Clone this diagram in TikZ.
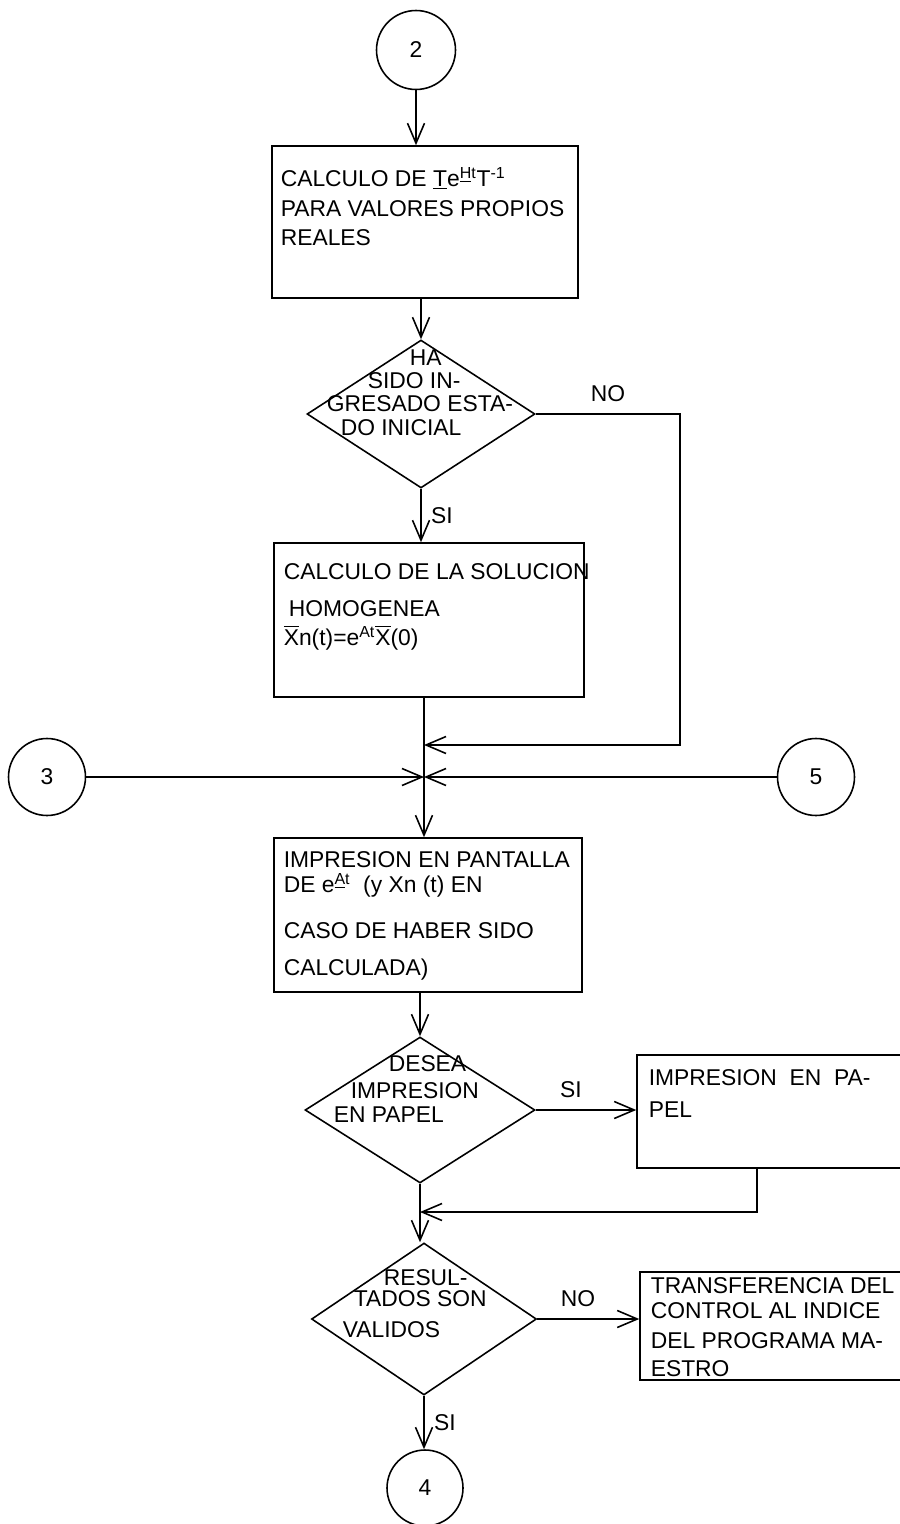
\documentclass[tikz,border=0pt]{standalone}
\usepackage{fontspec}
\setmainfont{Liberation Sans}
\usetikzlibrary{shapes.geometric,arrows.meta}
\newcommand{\xbar}{\ensuremath{\overline{\mbox{X}}}}
\begin{document}
\begin{tikzpicture}[
		x=0.02cm, y=-0.02cm,
		line width=0.9pt,
		every node/.style={font=\fontsize{13}{17}\selectfont},
		conn/.style={draw, circle, minimum size=1.58cm, inner sep=0pt},
		procbox/.style={draw, rectangle, inner sep=0pt},
		boxtext/.style={anchor=base west, align=left, inner sep=0pt},
		decision/.style={draw, diamond, inner sep=0pt},
		dectext/.style={anchor=base west, align=left, inner sep=0pt, font=\fontsize{13}{13.2}\selectfont},
		flow/.style={-{Straight Barb[length=4mm, width=3.4mm]}},
		]
		\useasboundingbox (0,0) rectangle (899,1524);
		\node [conn] (c2) at (416,50) {2};
		\node [procbox, minimum width=6.12cm, minimum height=3.04cm] (b1) at (425,222) {};
		\node [boxtext] (b1t) at (280,246) {CALCULO DE \underline{T}e\textsuperscript{\underline{H}t}T\textsuperscript{-1}\\PARA VALORES PROPIOS\\REALES};
		\node [decision, minimum width=4.56cm, minimum height=2.96cm] (d1) at (421,414) {};
		\node [dectext] (d1t) at (326,435) {\hspace*{1.66cm}HA\\\hspace*{0.82cm}SIDO IN-\\GRESADO ESTA-\\\hspace*{0.28cm}DO INICIAL};
		\node [procbox, minimum width=6.2cm, minimum height=3.08cm] (b2) at (429,620) {};
		\node [boxtext] (b2t) at (283,645) {CALCULO DE LA SOLUCION\\[3.5pt]\hspace*{0.1cm}HOMOGENEA\\[-0.5pt]\xbar n(t)=e\textsuperscript{At}\xbar(0)};
		\coordinate (k1) at (680,745);
		\coordinate (j1) at (424,745);
		\coordinate (j2) at (424,777);
		\node [conn, minimum size=1.54cm] (c3) at (47,777) {3};
		\node [conn, minimum size=1.54cm] (c5) at (816,777) {5};
		\node [procbox, minimum width=6.16cm, minimum height=3.08cm] (b3) at (428,915) {};
		\node [boxtext] (b3t) at (283,975) {IMPRESION EN PANTALLA\\[-2.8pt]DE e\textsuperscript{\underline{A}t}\ \ (y Xn (t) EN\\[9.2pt]CASO DE HABER SIDO\\[4pt]CALCULADA)};
		\node [decision, minimum width=4.6cm, minimum height=2.92cm] (d2) at (420,1110) {};
		\node [dectext] (d2t) at (333,1122) {\hspace*{1.1cm}DESEA\\[2.5pt]\hspace*{0.34cm}IMPRESION\\EN PAPEL};
		\node [procbox, minimum width=5.3cm, minimum height=2.26cm] (b4) at (769.5,1111.5) {};
		\node [boxtext] (b4t) at (648,1117) {IMPRESION\ \ EN\ \ PA-\\[1.2pt]PEL};
		\coordinate (k2) at (757,1212);
		\coordinate (j3) at (420,1212);
		\node [decision, minimum width=4.5cm, minimum height=3.04cm] (d3) at (424,1319) {};
		\node [dectext] (d3t) at (342,1337) {\hspace*{0.82cm}RESUL-\\[-0.7pt]\hspace*{0.22cm}TADOS SON\\[3.9pt]VALIDOS};
		\node [procbox, minimum width=5.24cm, minimum height=2.16cm] (b5) at (771,1326) {};
		\node [boxtext] (b5t) at (650,1376) {TRANSFERENCIA DEL\\[-2.8pt]CONTROL AL INDICE\\DEL PROGRAMA MA-\\[-1.1pt]ESTRO};
		\node [conn, minimum size=1.52cm] (c4) at (425,1488) {4};

		\draw [flow] (c2.south) -- (c2.south |- b1.north);
		\draw [flow] (b1.south -| d1.north) -- (d1.north);
		\draw [flow] (d1.south) -- (d1.south |- b2.north) node [midway, right=2pt] {SI};
		\draw [flow] (d1.east) -| node [pos=0.25, above=3pt] {NO} (k1) -- (j1);
		\draw [flow] (b2.south -| j1) -- (b3.north -| j1);
		\draw [flow] (c3.east) -- (j2);
		\draw [flow] (c5.west) -- (j2);
		\draw [flow] (b3.south -| d2.north) -- (d2.north);
		\draw [flow] (d2.east) -- (d2.east -| b4.west) node [pos=0.35, above=3pt] {SI};
		\draw [flow] (b4.south -| k2) -- (k2) -- (j3);
		\draw [flow] (d2.south) -- (d2.south |- d3.north);
		\draw [flow] (d3.east) -- (d3.east -| b5.west) node [pos=0.4, above=3pt] {NO};
		\draw [flow] (d3.south) -- (d3.south |- c4.north) node [midway, right=2pt] {SI};
	\end{tikzpicture}
\end{document}
